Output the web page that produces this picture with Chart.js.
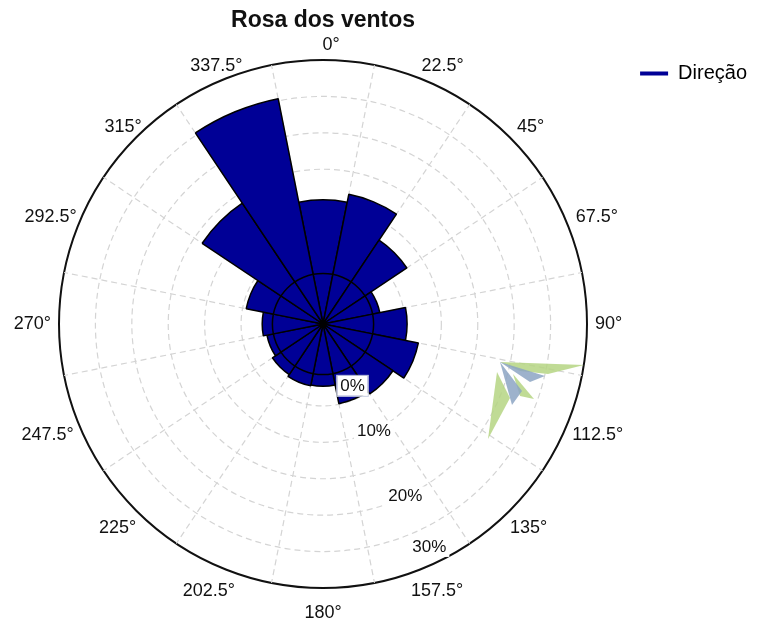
<!DOCTYPE html>
<html>
<head>
<meta charset="utf-8">
<title>Rosa dos ventos</title>
<script src="https://cdn.jsdelivr.net/npm/chart.js@4.4.0/dist/chart.umd.min.js"></script>
<style>
    html, body { margin: 0; padding: 0; background: #fff; }
</style>
</head>
<body>
<canvas id="rosa-canvas" width="757" height="618"></canvas>
<script>
// direcoes do vento (setores de 22.5 graus)
var direcoes = ['0°', '22.5°', '45°', '67.5°', '90°', '112.5°', '135°', '157.5°',
                '180°', '202.5°', '225°', '247.5°', '270°', '292.5°', '315°', '337.5°'];

// frequencia (%) de cada direcao
var frequencia = [10.8, 11.9, 7.6, 1.7, 5.3, 7.1, 5.3, 4.9,
                  2.3, 2.4, 2.1, 1.6, 2.1, 4.5, 13.7, 25.3];

// segmento interno de cada setor (o anel preto perto do centro)
var nucleo = [0.7, 0.7, 0.7, 0.7, 0.7, 0.7, 0.7, 0.7,
              0.7, 0.7, 0.7, 0.7, 0.7, 0.7, 0.7, 0.7];

// rotulos do eixo radial
var ticksPercent = [0, 10, 20, 30];

var escalaMin = -6.25;   // o 0% fica afastado do centro
var escalaMax = 30;

var corBarra = '#000096';
var fonte = '"Liberation Sans", Arial, sans-serif';

var rotulosPlugin = {
    id: 'rotulos',
    afterDraw: function (chart) {
        var ctx = chart.ctx;
        var escala = chart.scales.r;
        var raio = escala.drawingArea;
        var meioSetor = Math.PI / direcoes.length;

        ctx.save();
        ctx.font = '18px ' + fonte;
        ctx.fillStyle = '#111';
        ctx.textAlign = 'center';
        ctx.textBaseline = 'middle';

        // rotulos das direcoes, fora do circulo
        for (var i = 0; i < direcoes.length; i++) {
            var ang = escala.getIndexAngle(i) + meioSetor;
            var s = Math.sin(ang);
            var c = Math.cos(ang);
            var w = ctx.measureText(direcoes[i]).width;
            var x = escala.xCenter + (raio + 8) * s + s * w / 2 + 8 * Math.max(c, 0);
            var y = escala.yCenter - (raio + 8) * c - c * 7 - 10 * Math.min(c, 0);
            ctx.fillText(direcoes[i], x, y);
        }

        // rotulos de porcentagem
        ctx.font = '17px ' + fonte;
        var angP = 154.5 * Math.PI / 180;
        var rZero = escala.getDistanceFromCenterForValue(0);
        for (var j = 0; j < ticksPercent.length; j++) {
            var texto = ticksPercent[j] + '%';
            var r = escala.getDistanceFromCenterForValue(ticksPercent[j]);
            r = Math.min(Math.max(r, rZero + 23), raio - 17);
            var px = escala.xCenter + r * Math.sin(angP);
            var py = escala.yCenter - r * Math.cos(angP);
            var tw = ctx.measureText(texto).width;
            ctx.fillStyle = '#fff';
            ctx.fillRect(px - tw / 2 - 3, py - 10, tw + 6, 20);
            if (j === 0) {
                ctx.strokeStyle = '#c9cfe0';
                ctx.lineWidth = 1;
                ctx.strokeRect(px - tw / 2 - 3.5, py - 10.5, tw + 7, 21);
            }
            ctx.fillStyle = '#111';
            ctx.fillText(texto, px, py);
        }
        ctx.restore();
    }
};

// marca d'agua (logo parcial) que aparece no canto do grafico
var marcaPlugin = {
    id: 'marca',
    beforeDatasetsDraw: function (chart) {
        var ctx = chart.ctx;
        var verde = [
            [[500, 362], [584, 365], [548, 374], [520, 371]],
            [[497, 372], [510, 398], [488, 439]],
            [[513, 374], [534, 399], [520, 396]]
        ];
        var azul = [
            [[500, 362], [545, 376], [530, 382]],
            [[500, 362], [522, 391], [512, 405]]
        ];
        function desenhar(lista, cor) {
            ctx.fillStyle = cor;
            lista.forEach(function (p) {
                ctx.beginPath();
                ctx.moveTo(p[0][0], p[0][1]);
                for (var k = 1; k < p.length; k++) ctx.lineTo(p[k][0], p[k][1]);
                ctx.closePath();
                ctx.fill();
            });
        }
        ctx.save();
        desenhar(verde, 'rgba(181, 213, 130, 0.85)');
        desenhar(azul, 'rgba(140, 165, 195, 0.85)');
        ctx.restore();
    }
};

function plotarRosa() {
    var canvas = document.getElementById('rosa-canvas').getContext('2d');

    var rosaData = {
        labels: direcoes,
        datasets: [{
            label: 'Direção',
            data: frequencia,
            backgroundColor: corBarra,
            borderColor: '#000',
            borderWidth: 1.5,
            order: 1
        }, {
            label: 'núcleo',
            data: nucleo,
            backgroundColor: corBarra,
            borderColor: '#000',
            borderWidth: 1.5,
            order: 0
        }]
    };

    new Chart(canvas, {
        type: 'polarArea',
        data: rosaData,
        plugins: [marcaPlugin, rotulosPlugin],
        options: {
            responsive: false,
            animation: false,
            layout: {
                padding: { left: 10, right: 0, top: 0, bottom: 29 }
            },
            plugins: {
                title: {
                    display: true,
                    text: 'Rosa dos ventos',
                    fullSize: false,
                    color: '#111',
                    font: { size: 23, weight: 'bold', family: fonte },
                    padding: { top: 7, bottom: 25 }
                },
                legend: {
                    position: 'right',
                    align: 'start',
                    fullSize: false,
                    labels: {
                        usePointStyle: true,
                        pointStyleWidth: 28,
                        padding: 4,
                        color: '#111',
                        font: { size: 20, family: fonte },
                        generateLabels: function (chart) {
                            var ds = chart.data.datasets[0];
                            return [{
                                text: ds.label,
                                fillStyle: ds.backgroundColor,
                                strokeStyle: ds.backgroundColor,
                                lineWidth: 4,
                                pointStyle: 'line',
                                hidden: false,
                                datasetIndex: 0
                            }];
                        }
                    }
                },
                tooltip: { enabled: false }
            },
            scales: {
                r: {
                    min: escalaMin,
                    max: escalaMax,
                    startAngle: -180 / direcoes.length,
                    ticks: { display: false, stepSize: 5 },
                    pointLabels: { display: false },
                    grid: {
                        circular: true,
                        color: function (c) {
                            return c.tick && c.tick.value === escalaMax ? '#111' : '#d4d4d4';
                        },
                        lineWidth: function (c) {
                            return c.tick && c.tick.value === escalaMax ? 2 : 1.2;
                        }
                    },
                    border: {
                        dash: function (c) {
                            return c.tick && c.tick.value === escalaMax ? [] : [6, 4];
                        }
                    },
                    angleLines: {
                        display: true,
                        color: '#d4d4d4',
                        lineWidth: 1.2,
                        borderDash: [6, 4]
                    }
                }
            }
        }
    });
}

plotarRosa();
</script>
</body>
</html>
